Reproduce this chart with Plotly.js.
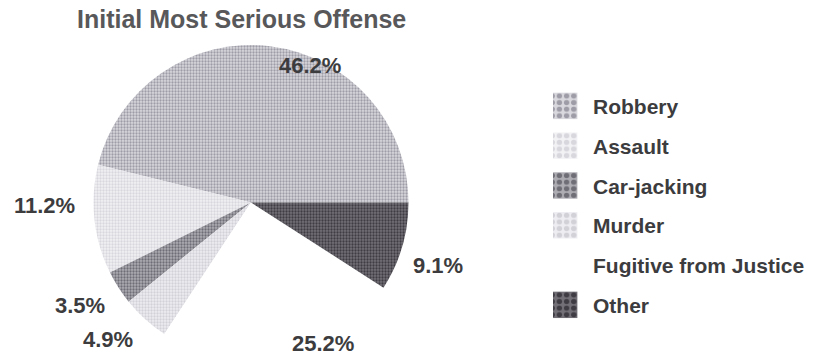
<!DOCTYPE html>
<html>
<head>
<meta charset="utf-8">
<script src="https://cdn.plot.ly/plotly-3.0.1.min.js"></script>
<style>
  html, body { margin: 0; padding: 0; background: #fff; }
  #chart { width: 819px; height: 360px; }
</style>
</head>
<body>
<div id="chart"></div>
<script>
// Offense categories and their shares (percent)
const categories = ['Robbery', 'Assault', 'Car-jacking', 'Murder', 'Fugitive from Justice', 'Other'];
const shares = [46.2, 11.2, 3.5, 4.9, 25.2, 9.1];

// Grey, grainy fills for each slice
const sliceBg = ['#d9d8de', '#f2f1f4', '#aeadb4', '#eeedf1', '#ffffff', '#737177'];
const sliceFg = ['#9e9ca6', '#d8d7dd', '#6f6d76', '#d2d1d8', '#ffffff', '#3f3d43'];
const sliceShape = ['.', '.', '.', '.', '', '.'];

// Where each percentage label sits (pixels on the 819x360 page)
const labelPx = [[310, 65], [44, 205], [80, 305], [108, 339], [323, 343], [438, 265]];

const W = 819, H = 360;
const total = shares.reduce((a, b) => a + b, 0);

// First slice begins at 3 o'clock and the rest follow counterclockwise
const rotation = 90 - 360 * shares[0] / total;

const trace = {
  type: 'pie',
  labels: categories.map(c => '<span style="font-size:21px">' + c + '</span>'),
  values: shares,
  sort: false,
  direction: 'counterclockwise',
  rotation: rotation,
  textinfo: 'none',
  hoverinfo: 'label+percent',
  domain: { x: [93.5 / W, 408.5 / W], y: [0, 1 - 45 / H] },
  marker: {
    colors: sliceBg,
    line: { width: 0, color: '#ffffff' },
    pattern: {
      shape: sliceShape,
      fgcolor: sliceFg,
      bgcolor: sliceBg,
      size: 3,
      solidity: 0.45
    }
  }
};

const annotations = shares.map((v, i) => ({
  xref: 'paper', yref: 'paper',
  x: labelPx[i][0] / W, y: 1 - labelPx[i][1] / H,
  xanchor: 'center', yanchor: 'middle',
  text: v.toFixed(1) + '%',
  showarrow: false,
  font: { family: 'Liberation Sans, Arial, sans-serif', size: 22, color: '#3c3c3e', weight: 'bold' }
}));

const layout = {
  width: W, height: H,
  margin: { l: 0, r: 0, t: 0, b: 0 },
  paper_bgcolor: '#ffffff',
  font: { family: 'Liberation Sans, Arial, sans-serif', color: '#3c3c3e' },
  title: {
    text: '<b>Initial Most Serious Offense</b>',
    font: { family: 'Liberation Sans, Arial, sans-serif', size: 25, color: '#58585a' },
    xref: 'paper', yref: 'container',
    x: 77 / W, xanchor: 'left',
    y: 1 - 19 / H, yanchor: 'middle'
  },
  showlegend: true,
  legend: {
    x: (593 - 40) / W, xanchor: 'left',
    y: 1 - 78 / H, yanchor: 'top',
    font: { family: 'Liberation Sans, Arial, sans-serif', size: 28.3, color: '#3c3c3e', weight: 'bold' },
    bgcolor: 'rgba(0,0,0,0)',
    borderwidth: 0
  },
  annotations: annotations
};

Plotly.newPlot('chart', [trace], layout, { displayModeBar: false, staticPlot: true }).then(gd => {
  // enlarge the legend swatches
  gd.querySelectorAll('.legendpoints path').forEach(p => {
    const t = p.getAttribute('transform') || '';
    p.setAttribute('transform', t + ' translate(-10,3) scale(2.4,2.2)');
  });
});
</script>
</body>
</html>
